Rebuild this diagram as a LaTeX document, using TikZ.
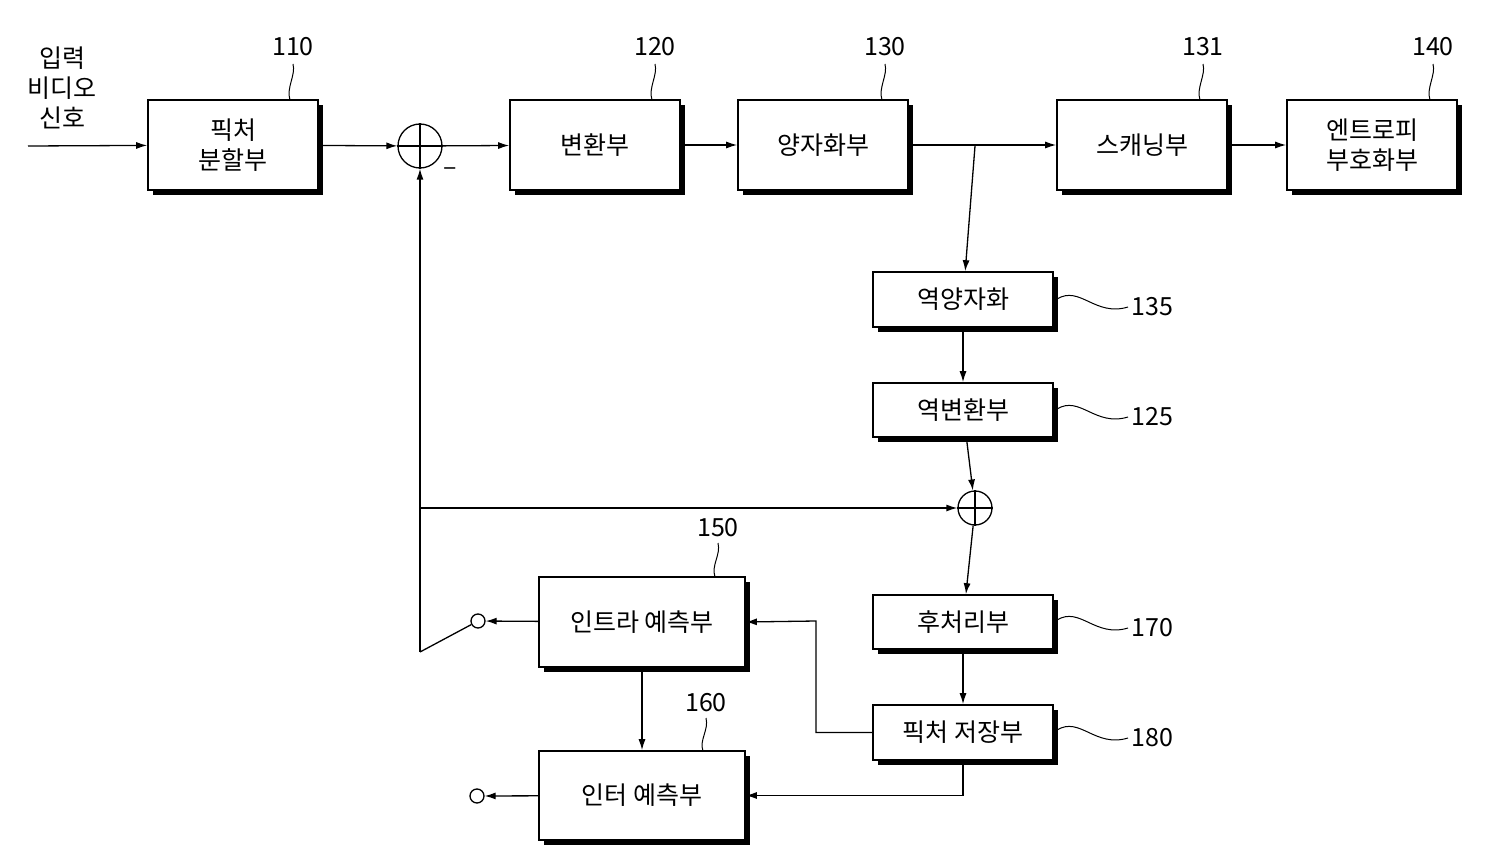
\documentclass[tikz,border=0pt]{standalone}
\usepackage{fontspec}
\setmainfont{Noto Sans CJK KR}
\usetikzlibrary{arrows.meta}
\begin{document}
\begin{tikzpicture}[x=1pt,y=-1pt,line width=1.3pt,
  font=\fontsize{25}{30}\selectfont,
  box/.style={draw,fill=white,line width=1.6pt,align=center,inner sep=0pt},
  shd/.style={fill=black},
  arr/.style={-{Latex[length=11pt,width=7pt]}},
  num/.style={font=\fontsize{25}{30}\selectfont},
  term/.style={circle,draw,fill=white,minimum size=14pt,inner sep=0pt,line width=1.3pt}]
\useasboundingbox (0,0) rectangle (1500,856);
\newcommand\bx[6]{%
  \fill (#2+5,#3+5) rectangle (#4+5,#5+5);
  \node[box,minimum width=#4-#2,minimum height=#5-#3] (#1) at ({(#2+#4)/2},{(#3+#5)/2}) {#6};}
\bx{b110}{148}{100}{318}{190}{픽처\\분할부}
\bx{b120}{510}{100}{680}{190}{변환부}
\bx{b130}{738}{100}{908}{190}{양자화부}
\bx{b131}{1057}{100}{1227}{190}{스캐닝부}
\bx{b140}{1287}{100}{1457}{190}{엔트로피\\부호화부}
\bx{b135}{873}{272}{1053}{327}{역양자화}
\bx{b125}{873}{383}{1053}{437}{역변환부}
\bx{b170}{873}{595}{1053}{649}{후처리부}
\bx{b180}{873}{705}{1053}{760}{픽처 저장부}
\bx{b150}{539}{577}{745}{667}{인트라 예측부}
\bx{b160}{539}{751}{745}{840}{인터 예측부}
% adders
\node[circle,draw,minimum size=44pt,inner sep=0pt] (a1) at (420,146) {};
\draw (a1.north)--(a1.south) (a1.west)--(a1.east);
\node[circle,draw,minimum size=34pt,inner sep=0pt] (a2) at (975,508) {};
\draw (a2.north)--(a2.south) (a2.west)--(a2.east);
\node at (450,172) {\textendash};
% input
\coordinate (in) at (28,146);
\node[align=center,font=\fontsize{25}{30}\selectfont] (inl) at (62,88) {입력\\비디오\\신호};
\draw[arr] (in)--(b110);
\draw[arr] (b110)--(a1);
\draw[arr] (a1)--(b120);
\draw[arr] (b120)--(b130);
\coordinate (br) at (975,146);
\draw[arr] (b130)--(b131);
\draw[arr] (b131)--(b140);
\draw[arr] (br)--(b135);
\draw[arr] (b135)--(b125);
\draw[arr] (b125)--(a2);
\draw[arr] (a2)--(b170);
\draw[arr] (b170)--(b180);
% switch and feedback
\coordinate (sw) at (420,652);
\coordinate (fb) at (420,508);
\node[term] (t1) at (478,621) {};
\node[term] (t2) at (477,796) {};
\draw[arr] (sw)--(a1);
\draw[arr] (fb)--(a2);
\draw (sw)--(t1);
\draw[arr] (b150)--(t1);
\draw[arr] (b150.south)--(b160.north);
\draw[arr] (b180.west) -| (816,621) -- (b150.east);
\draw[arr] (b180.south) |- (b160.east);
\draw[arr] (b160)--(t2);
% reference numbers
\foreach \n/\x/\tx in {110/290/293,120/652/655,130/882/885,131/1200/1203,140/1430/1433}{
  \node[num] at (\tx,47) {\n};
  \draw[line width=1pt] (\x,100) .. controls (\x-4,88) and (\x+6,75) .. (\x+3,64);}
\node[num] at (718,528) {150};
\draw[line width=1pt] (715,577) .. controls (711,565) and (721,555) .. (718,543);
\node[num] at (706,703) {160};
\draw[line width=1pt] (703,751) .. controls (699,740) and (709,730) .. (706,718);
\foreach \n/\y in {135/307,125/417,170/628,180/738}{
  \node[num,anchor=west] at (1128,\y) {\n};
  \draw[line width=1pt] (1057,\y-8) .. controls (1080,\y-22) and (1095,\y+10) .. (1128,\y);}
\end{tikzpicture}
\end{document}
